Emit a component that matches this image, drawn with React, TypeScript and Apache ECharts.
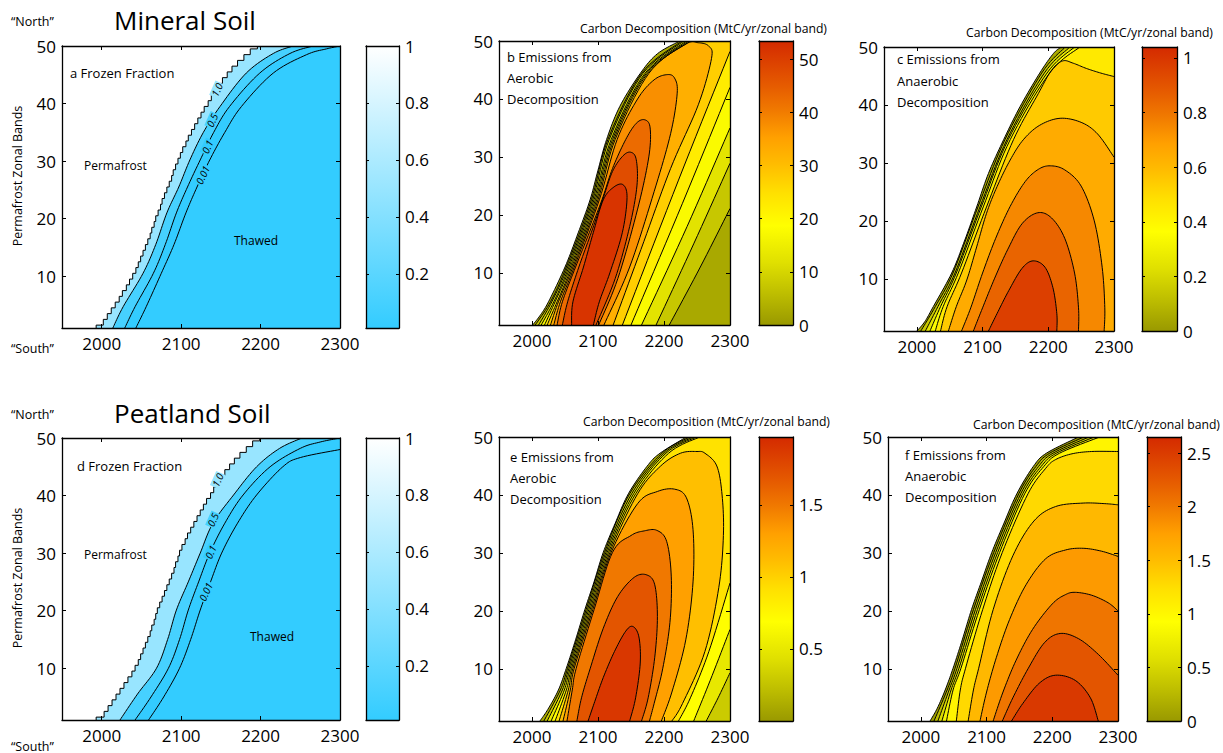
import React, { useEffect, useRef } from "react";
import * as echarts from "echarts";

type Pt = [number, number];
const FONT = '"Open Sans", "Noto Sans", sans-serif';

// ---------- axes ----------
const yearTicks = [2000, 2100, 2200, 2300];
const bandTicks = [10, 20, 30, 40, 50];
const YEAR_MIN = 1950, YEAR_MAX = 2300, BAND_MIN = 1, BAND_MAX = 50;

// ---------- colour maps ----------
const frozenStops: [number, string][] = [[0, "#33ccff"], [1, "#ffffff"]];
const carbonStops: [number, string][] = [
  [0, "#999900"], [0.105, "#bcbc00"], [0.22, "#e0e000"], [0.35, "#ffff00"], [0.465, "#ffe000"],
  [0.57, "#ffbb00"], [0.66, "#ffa000"], [0.76, "#f07800"], [0.84, "#e65c00"], [1, "#d42a00"],
];

// ---------- colour bar ranges & ticks ----------
const aBar = [0.01, 1], dBar = [0.01, 1];
const bBar = [0, 53.4], cBar = [0, 1.04], eBar = [0, 1.97], fBar = [0, 2.65];
const frozenBarTicks = [0.2, 0.4, 0.6, 0.8, 1];
const bBarTicks = [0, 10, 20, 30, 40, 50];
const cBarTicks = [0, 0.2, 0.4, 0.6, 0.8, 1];
const eBarTicks = [0.5, 1, 1.5];
const fBarTicks = [0, 0.5, 1, 1.5, 2, 2.5];

// ---------- panel a : mineral frozen fraction ----------
const aFrozenYears = [1993, 2002, 2007, 2012, 2017, 2022, 2026, 2031, 2035, 2039, 2043, 2046, 2049, 2052, 2055, 2058, 2061, 2063, 2066, 2068,
  2071, 2074, 2076, 2079, 2082, 2085, 2088, 2090, 2093, 2096, 2099, 2102, 2106, 2109, 2113, 2117, 2121, 2125, 2129, 2134,
  2138, 2143, 2147, 2152, 2158, 2164, 2171, 2179, 2187, 2196];
const a05: Pt[] = [[2014, 1], [2027, 4.7], [2052, 10.5], [2068, 15.5], [2082, 21], [2097, 25.5], [2111, 30.2], [2128, 35], [2149, 39.5], [2182, 45.3], [2216, 48.7], [2241, 50]];
const a01: Pt[] = [[2029, 1], [2042, 4.7], [2065, 10.5], [2080, 15.5], [2094, 21], [2108, 25.5], [2124, 30.2], [2141, 35], [2161, 39.5], [2199, 45.3], [2237, 48.7], [2266, 50]];
const a001: Pt[] = [[2043, 1], [2056, 4.7], [2075, 10.5], [2091, 15.5], [2106, 21], [2120, 25.5], [2136, 30.2], [2155, 35], [2176, 39.5], [2216, 45.3], [2258, 48.5], [2283, 49.5], [2300, 50]];
const aLabels: [number, number, string][] = [[2145, 42.4, "1.0"], [2139, 37.1, "0.5"], [2133, 32.5, "0.1"], [2127, 27.6, "0.01"]];

// ---------- panel d : peatland frozen fraction ----------
const dFrozenYears = [1993, 2003, 2008, 2013, 2018, 2023, 2028, 2033, 2038, 2042, 2046, 2049, 2052, 2055, 2058, 2061, 2063, 2066, 2068, 2070,
  2073, 2076, 2079, 2082, 2085, 2088, 2091, 2093, 2096, 2098, 2101, 2105, 2108, 2112, 2116, 2120, 2124, 2128, 2132, 2137,
  2141, 2146, 2150, 2155, 2161, 2167, 2174, 2182, 2190, 2199];
const d05: Pt[] = [[2023, 1], [2045, 5.5], [2069, 10], [2083, 15], [2094, 20.1], [2109, 25], [2124, 30], [2140, 35.2], [2166, 40.1], [2195, 45], [2224, 48.2], [2252, 50]];
const d01: Pt[] = [[2042, 1], [2062, 5], [2084, 10], [2098, 15], [2109, 20.1], [2122, 25], [2136, 30], [2155, 35.2], [2178, 40.1], [2212, 45], [2250, 48.2], [2275, 49.3], [2300, 50]];
const d001: Pt[] = [[2059, 1], [2078, 5], [2098, 10], [2112, 15], [2124, 20.1], [2137, 25], [2151, 30], [2171, 35.2], [2195, 40.1], [2228, 45], [2250, 46.6], [2300, 48]];
const dLabels: [number, number, string][] = [[2146, 42.7, "1.0"], [2140, 35.8, "0.5"], [2137, 30.2, "0.1"], [2131, 23.3, "0.01"]];

// ---------- panel b : mineral aerobic ----------
const bDenseBands = [1, 5, 11, 22.6, 33, 44.4, 50];
const bFront: Pt[] = [[2001, 1], [2012, 2.6], [2025, 5], [2050, 11], [2070, 16.9], [2088, 22.6], [2100, 27.7], [2113, 33], [2133, 38.7], [2164, 44.4], [2190, 47.8], [2224, 50]];
const b05 = [2005, 2028, 2052, 2090, 2115, 2166, 2227];
const b10 = [2010, 2030, 2054, 2092, 2117, 2168, 2230];
const b15 = [2014, 2033, 2056, 2094, 2120, 2171, 2234];
const b20 = [2019, 2035, 2058, 2096, 2122, 2173, 2237];
const b25 = [2023, 2038, 2060, 2098, 2124, 2175, 2240];
const bR05: Pt[] = [[2300, 21.1], [2255, 11], [2208, 1]];
const bR10: Pt[] = [[2300, 28.9], [2245, 15], [2188, 1]];
const bR15: Pt[] = [[2300, 35], [2235, 18], [2166, 1]];
const bR20: Pt[] = [[2300, 42], [2228, 22], [2150, 1]];
const bR25: Pt[] = [[2300, 48.2], [2222, 26], [2137, 1]];
const b30: Pt[] = [[2028, 1], [2040, 5], [2062, 11], [2100, 22.6], [2126, 33], [2177, 44.4], [2232, 49.4], [2252, 49.7], [2268, 49.1], [2272, 47], [2252, 39], [2210, 28], [2165, 14], [2123, 1]];
const b35: Pt[] = [[2033, 1], [2043, 5], [2064, 11], [2102, 22.6], [2129, 33], [2160, 40], [2185, 43.3], [2205, 44.2], [2216, 43.6], [2220, 41], [2210, 34], [2185, 24], [2148, 11], [2109, 1]];
const b40: Pt[] = [[2038, 1], [2046, 5], [2066, 11], [2087, 17], [2106, 22.6], [2122, 28], [2142, 33], [2158, 35.8], [2171, 36.4], [2179, 35], [2177, 30], [2160, 21], [2130, 9], [2101, 1]];
const b45: Pt[] = [[2046, 1], [2054, 5], [2071, 11], [2090, 17], [2107, 22.6], [2122, 27.5], [2138, 30.2], [2150, 30.8], [2158, 29.5], [2159, 25], [2148, 18], [2126, 9], [2097, 1]];
const b50: Pt[] = [[2060, 1], [2062, 5], [2078, 11], [2093, 17], [2108, 22.6], [2124, 24.8], [2138, 25.2], [2144, 23], [2137, 17], [2118, 10], [2102, 5], [2093, 1]];

// ---------- panel c : mineral anaerobic ----------
const cDenseBands = [1, 5.2, 11, 22.4, 34, 45.5, 50];
const cFront: Pt[] = [[2000, 1], [2012, 2.6], [2025, 5.2], [2053, 11], [2073, 16.7], [2091, 22.4], [2109, 28.2], [2132, 34], [2157, 39.7], [2187, 45.5], [2208, 48.9], [2220, 50]];
const c01 = [2006, 2028, 2055, 2093, 2134, 2190, 2226];
const c02 = [2013, 2032, 2058, 2096, 2137, 2194, 2233];
const c03 = [2020, 2036, 2060, 2098, 2139, 2198, 2240];
const c04 = [2028, 2040, 2063, 2101, 2142, 2202, 2248];
const c05: Pt[] = [[2036, 1], [2046, 5.2], [2068, 11], [2106, 22.4], [2147, 34], [2185, 42], [2205, 46], [2222, 47.6], [2238, 47.2], [2258, 46.3], [2280, 45.5], [2300, 44.9]];
const c06: Pt[] = [[2048, 1], [2060, 5.2], [2076, 9.8], [2091, 15.5], [2106, 21.3], [2122, 25.9], [2142, 30.5], [2162, 34], [2187, 36.5], [2218, 37.7], [2250, 37], [2275, 35], [2300, 31]];
const c07: Pt[] = [[2068, 1], [2082, 5], [2100, 11], [2120, 17], [2142, 22.5], [2165, 26.8], [2185, 28.9], [2203, 29.5], [2225, 28.8], [2250, 26], [2270, 20], [2282, 12], [2286, 5], [2285, 1]];
const c08: Pt[] = [[2086, 1], [2100, 5], [2118, 10], [2138, 15], [2160, 19.5], [2184, 21.4], [2205, 20.5], [2225, 17], [2240, 11], [2246, 5], [2246, 1]];
const c09: Pt[] = [[2109, 1], [2122, 4], [2140, 8], [2160, 11.8], [2177, 13.1], [2195, 12], [2207, 8.5], [2213, 4], [2213, 1]];

// ---------- panel e : peatland aerobic ----------
const eDenseBands = [1, 6.35, 10.1, 20.2, 30.1, 40.2, 47.2, 50];
const eFront: Pt[] = [[2012, 1], [2024, 3], [2040, 6.35], [2052, 10.1], [2066, 15], [2080, 20.2], [2094, 25], [2108, 30.1], [2126, 35.1], [2146, 40.2], [2174, 44.9], [2194, 47.2], [2234, 50]];
const e02 = [2018, 2043, 2054, 2082, 2110, 2148, 2197, 2239];
const e04 = [2023, 2046, 2056, 2084, 2112, 2151, 2200, 2244];
const e06 = [2029, 2049, 2058, 2086, 2114, 2154, 2203, 2249];
const e08 = [2035, 2052, 2060, 2088, 2116, 2157, 2207, 2254];
const eR04: Pt[] = [[2300, 9.3], [2282, 5], [2264, 1]];
const eR06: Pt[] = [[2300, 16.8], [2270, 8], [2245, 1]];
const eR08: Pt[] = [[2300, 24.8], [2268, 13], [2240, 5], [2222, 1]];
const e10: Pt[] = [[2041, 1], [2055, 6.35], [2062, 10.1], [2090, 20.2], [2118, 30.1], [2160, 40.2], [2195, 45], [2225, 47.2], [2250, 47.5], [2262, 47.2], [2280, 45], [2288, 40], [2290, 33], [2283, 24], [2262, 13], [2228, 4], [2212, 1]];
const e12: Pt[] = [[2047, 1], [2058, 6.35], [2064, 10.1], [2092, 20.2], [2120, 30.1], [2160, 38.5], [2190, 40.6], [2216, 41], [2234, 39.5], [2244, 34], [2244, 25], [2233, 15], [2212, 6], [2196, 1]];
const e14: Pt[] = [[2053, 1], [2061, 6.35], [2067, 10.1], [2094, 20.2], [2122, 30.1], [2150, 33], [2170, 33.8], [2189, 33.9], [2204, 32], [2211, 26], [2209, 18], [2198, 10], [2185, 4], [2178, 1]];
const e16: Pt[] = [[2068, 1], [2075, 5], [2088, 10], [2108, 17], [2130, 22.5], [2155, 25.8], [2174, 26.2], [2186, 24.5], [2190, 19], [2186, 12], [2176, 5], [2166, 1]];
const e18: Pt[] = [[2085, 1], [2094, 4], [2108, 8.5], [2125, 13], [2142, 16.5], [2153, 17.3], [2162, 15.5], [2164, 11], [2157, 5], [2148, 1]];

// ---------- panel f : peatland anaerobic ----------
const fDenseBands = [1, 6.35, 10.1, 20.2, 30.1, 40.2, 44.9, 47.2, 50];
const fFront: Pt[] = [[2014, 1], [2025, 3.2], [2037, 6.35], [2049, 10.1], [2063, 15], [2077, 20.2], [2092, 25], [2108, 30.1], [2126, 35], [2146, 40.2], [2171, 44.9], [2191, 47.2], [2240, 50]];
const f025 = [2020, 2040, 2052, 2080, 2111, 2149, 2175, 2196, 2248];
const f050 = [2026, 2043, 2055, 2083, 2114, 2152, 2179, 2201, 2256];
const f075 = [2032, 2046, 2058, 2086, 2117, 2155, 2183, 2206, 2264];
const f100 = [2039, 2049, 2061, 2089, 2120, 2158, 2187, 2211, 2272];
const f125: Pt[] = [[2054, 1], [2060, 6.35], [2068, 10.1], [2094, 20.2], [2124, 30.1], [2163, 40.2], [2190, 44.6], [2205, 46.1], [2230, 47.1], [2260, 47.5], [2300, 47.5]];
const f150: Pt[] = [[2072, 1], [2080, 6.35], [2088, 10.1], [2110, 20.2], [2140, 29.5], [2172, 35.5], [2205, 38], [2247, 38.6], [2280, 38.5], [2300, 38.3]];
const f175: Pt[] = [[2090, 1], [2100, 6], [2115, 12], [2135, 18.5], [2160, 24.5], [2190, 29], [2220, 30.5], [2247, 30.8], [2275, 30.3], [2300, 29.4]];
const f200: Pt[] = [[2110, 1], [2125, 6], [2145, 11.5], [2170, 16.8], [2200, 21.2], [2220, 22.8], [2235, 23.2], [2260, 22.7], [2285, 21.4], [2300, 20]];
const f225: Pt[] = [[2124, 1], [2140, 5], [2163, 10], [2188, 14.5], [2212, 16.1], [2240, 15.2], [2270, 12.5], [2300, 8.9]];
const f250: Pt[] = [[2138, 1], [2155, 4], [2180, 7.5], [2205, 8.9], [2235, 8], [2258, 5], [2270, 1]];

// ---------- helpers ----------
type Seg = { p: Pt[]; kind: "line" | "corner" | "stair" };
type Level = { v: number; segs: Seg[] };
const ln = (p: Pt[]): Seg => ({ p, kind: "line" });
const cr = (...p: Pt[]): Seg => ({ p, kind: "corner" });
const zipB = (years: number[], bands: number[]): Pt[] => years.map((y, i) => [y, bands[i]] as Pt);
const stair = (years: number[]): Seg => {
  const p: Pt[] = [[years[0], 1]];
  for (let k = 0; k < years.length - 1; k++) {
    p.push([years[k], k + 1.5]);
    p.push([years[k + 1], k + 1.5]);
  }
  p.push([years[years.length - 1], 50]);
  return { p, kind: "stair" };
};
const TR: Pt = [YEAR_MAX, BAND_MAX], BR: Pt = [YEAR_MAX, BAND_MIN], TL: Pt = [YEAR_MIN, BAND_MAX], BL: Pt = [YEAR_MIN, BAND_MIN];

function hex2rgb(h: string) { return [parseInt(h.slice(1, 3), 16), parseInt(h.slice(3, 5), 16), parseInt(h.slice(5, 7), 16)]; }
function cmap(stops: [number, string][], t: number) {
  t = Math.max(0, Math.min(1, t));
  for (let i = 0; i < stops.length - 1; i++) {
    const [t0, c0] = stops[i], [t1, c1] = stops[i + 1];
    if (t <= t1) {
      const f = (t - t0) / (t1 - t0 || 1);
      const a = hex2rgb(c0), b = hex2rgb(c1);
      return `rgb(${a.map((v, j) => Math.round(v + (b[j] - v) * f)).join(",")})`;
    }
  }
  return stops[stops.length - 1][1];
}
function smooth(p: number[][]) {
  if (p.length < 3) return p;
  const out = [p[0]];
  for (let i = 0; i < p.length - 1; i++) {
    const p0 = p[i - 1] || p[i], p1 = p[i], p2 = p[i + 1], p3 = p[i + 2] || p[i + 1];
    for (let k = 1; k <= 10; k++) {
      const t = k / 10, t2 = t * t, t3 = t2 * t;
      const f = (j: number) => 0.5 * (2 * p1[j] + (-p0[j] + p2[j]) * t + (2 * p0[j] - 5 * p1[j] + 4 * p2[j] - p3[j]) * t2 + (-p0[j] + 3 * p1[j] - 3 * p2[j] + p3[j]) * t3);
      out.push([f(0), f(1)]);
    }
  }
  return out;
}

// ---------- level structures (regions >= level) ----------
const frozenLevels = (yearsStair: number[], l05: Pt[], l01: Pt[], l001: Pt[], extra001: Pt[]): Level[] => [
  { v: 0.01, segs: [cr(BL), ln(l001), cr(...extra001, TL)] },
  { v: 0.1, segs: [cr(BL), ln(l01), cr(TL)] },
  { v: 0.5, segs: [cr(BL), ln(l05), cr(TL)] },
  { v: 1.0, segs: [cr(BL), stair(yearsStair), cr(TL)] },
];
const aLevels = frozenLevels(aFrozenYears, a05, a01, a001, []);
const dLevels = frozenLevels(dFrozenYears, d05, d01, d001, [TR]);

const bLevels: Level[] = [
  { v: 0, segs: [ln(bFront), cr(TR, BR)] },
  { v: 5, segs: [ln(zipB(b05, bDenseBands)), cr(TR), ln(bR05)] },
  { v: 10, segs: [ln(zipB(b10, bDenseBands)), cr(TR), ln(bR10)] },
  { v: 15, segs: [ln(zipB(b15, bDenseBands)), cr(TR), ln(bR15)] },
  { v: 20, segs: [ln(zipB(b20, bDenseBands)), cr(TR), ln(bR20)] },
  { v: 25, segs: [ln(zipB(b25, bDenseBands)), cr(TR), ln(bR25)] },
  { v: 30, segs: [ln(b30)] },
  { v: 35, segs: [ln(b35)] },
  { v: 40, segs: [ln(b40)] },
  { v: 45, segs: [ln(b45)] },
  { v: 50, segs: [ln(b50)] },
];
const cLevels: Level[] = [
  { v: 0, segs: [ln(cFront), cr(TR, BR)] },
  { v: 0.1, segs: [ln(zipB(c01, cDenseBands)), cr(TR, BR)] },
  { v: 0.2, segs: [ln(zipB(c02, cDenseBands)), cr(TR, BR)] },
  { v: 0.3, segs: [ln(zipB(c03, cDenseBands)), cr(TR, BR)] },
  { v: 0.4, segs: [ln(zipB(c04, cDenseBands)), cr(TR, BR)] },
  { v: 0.5, segs: [ln(c05), cr(BR)] },
  { v: 0.6, segs: [ln(c06), cr(BR)] },
  { v: 0.7, segs: [ln(c07)] },
  { v: 0.8, segs: [ln(c08)] },
  { v: 0.9, segs: [ln(c09)] },
];
const eLevels: Level[] = [
  { v: 0, segs: [ln(eFront), cr(TR, BR)] },
  { v: 0.2, segs: [ln(zipB(e02, eDenseBands)), cr(TR, BR)] },
  { v: 0.4, segs: [ln(zipB(e04, eDenseBands)), cr(TR), ln(eR04)] },
  { v: 0.6, segs: [ln(zipB(e06, eDenseBands)), cr(TR), ln(eR06)] },
  { v: 0.8, segs: [ln(zipB(e08, eDenseBands)), cr(TR), ln(eR08)] },
  { v: 1.0, segs: [ln(e10)] },
  { v: 1.2, segs: [ln(e12)] },
  { v: 1.4, segs: [ln(e14)] },
  { v: 1.6, segs: [ln(e16)] },
  { v: 1.8, segs: [ln(e18)] },
];
const fLevels: Level[] = [
  { v: 0, segs: [ln(fFront), cr(TR, BR)] },
  { v: 0.25, segs: [ln(zipB(f025, fDenseBands)), cr(TR, BR)] },
  { v: 0.5, segs: [ln(zipB(f050, fDenseBands)), cr(TR, BR)] },
  { v: 0.75, segs: [ln(zipB(f075, fDenseBands)), cr(TR, BR)] },
  { v: 1.0, segs: [ln(zipB(f100, fDenseBands)), cr(TR, BR)] },
  { v: 1.25, segs: [ln(f125), cr(BR)] },
  { v: 1.5, segs: [ln(f150), cr(BR)] },
  { v: 1.75, segs: [ln(f175), cr(BR)] },
  { v: 2.0, segs: [ln(f200), cr(BR)] },
  { v: 2.25, segs: [ln(f225), cr(BR)] },
  { v: 2.5, segs: [ln(f250)] },
];

// fill colour of a band [v_k, v_k+1]: sampled at a fraction of the band (0 = lower bound, 0.5 = middle)
type Panel = { g: number[]; cb: number[]; range: number[]; ticks: number[]; stops: [number, string][]; levels: Level[]; pick: number; base?: boolean; labels?: [number, number, string][] };
const panels: Panel[] = [
  { g: [62, 46, 278, 282], cb: [366, 46, 33, 282], range: aBar, ticks: frozenBarTicks, stops: frozenStops, levels: aLevels, pick: 0, base: true, labels: aLabels },
  { g: [499, 41, 231, 284], cb: [759, 41, 34, 284], range: bBar, ticks: bBarTicks, stops: carbonStops, levels: bLevels, pick: 0.5 },
  { g: [884, 47, 230, 284], cb: [1142, 47, 35, 284], range: cBar, ticks: cBarTicks, stops: carbonStops, levels: cLevels, pick: 0.5 },
  { g: [62, 438, 278, 282], cb: [366, 438, 33, 282], range: dBar, ticks: frozenBarTicks, stops: frozenStops, levels: dLevels, pick: 0, base: true, labels: dLabels },
  { g: [499, 437, 231, 284], cb: [759, 437, 34, 284], range: eBar, ticks: eBarTicks, stops: carbonStops, levels: eLevels, pick: 0.5 },
  { g: [888, 437, 230, 284], cb: [1147, 437, 34, 284], range: fBar, ticks: fBarTicks, stops: carbonStops, levels: fLevels, pick: 0.15 },
];

const axisLine = { show: true, onZero: false, lineStyle: { color: "#000", width: 1.3 } };
const tickStyle = { color: "#000", width: 1 };
const labelStyle = { color: "#000", fontSize: 17, fontFamily: FONT, formatter: (v: number) => String(v) };

function buildOption() {
  const grid: any[] = [], xAxis: any[] = [], yAxis: any[] = [], series: any[] = [];
  panels.forEach((P, i) => {
    const gi = 2 * i, bi = 2 * i + 1;
    grid.push({ left: P.g[0], top: P.g[1], width: P.g[2], height: P.g[3], containLabel: false, outerBoundsMode: "none" });
    grid.push({ left: P.cb[0], top: P.cb[1], width: P.cb[2], height: P.cb[3], containLabel: false, outerBoundsMode: "none" });
    const mx = (pos: string, lab: boolean) => ({
      type: "value", gridIndex: gi, position: pos, min: YEAR_MIN, max: YEAR_MAX, z: 10, axisLine, splitLine: { show: false },
      axisTick: { show: true, inside: true, length: 4, customValues: yearTicks, lineStyle: tickStyle },
      axisLabel: lab ? { show: true, customValues: yearTicks, margin: 7, ...labelStyle } : { show: false },
    });
    const my = (pos: string, lab: boolean) => ({
      type: "value", gridIndex: gi, position: pos, min: BAND_MIN, max: BAND_MAX, z: 10, axisLine, splitLine: { show: false },
      axisTick: { show: true, inside: true, length: 4, customValues: bandTicks, lineStyle: tickStyle },
      axisLabel: lab ? { show: true, customValues: bandTicks, margin: 6, ...labelStyle } : { show: false },
    });
    const bx = (pos: string) => ({ type: "value", gridIndex: bi, position: pos, min: 0, max: 1, z: 10, axisLine, splitLine: { show: false }, axisTick: { show: false }, axisLabel: { show: false } });
    const by = (pos: string, lab: boolean) => ({
      type: "value", gridIndex: bi, position: pos, min: P.range[0], max: P.range[1], z: 10, axisLine, splitLine: { show: false },
      axisTick: { show: true, inside: true, length: 3, customValues: P.ticks, lineStyle: tickStyle },
      axisLabel: lab ? { show: true, customValues: P.ticks, margin: 6, ...labelStyle } : { show: false },
    });
    xAxis.push(mx("bottom", true), mx("top", false), bx("bottom"), bx("top"));
    yAxis.push(my("left", true), my("right", false), by("left", false), by("right", true));

    series.push({
      type: "custom", xAxisIndex: 4 * i, yAxisIndex: 4 * i, z: 2, clip: true, silent: true,
      data: [[2000, 10]], encode: { x: 0, y: 1 },
      renderItem: (_params: any, api: any) => {
        const fills: any[] = [], lines: number[][][] = [];
        if (P.base) {
          const a = api.coord(BL), b = api.coord(TR);
          fills.push({ type: "rect", shape: { x: a[0], y: b[1], width: b[0] - a[0], height: a[1] - b[1] }, style: { fill: cmap(P.stops, 0) } });
        }
        const colors: string[] = [];
        P.levels.forEach((lv, k) => {
          const next = k + 1 < P.levels.length ? P.levels[k + 1].v : P.range[1];
          const val = lv.v + (next - lv.v) * P.pick;
          const color = cmap(P.stops, (val - P.range[0]) / (P.range[1] - P.range[0]));
          colors.push(color);
          const poly: number[][] = [];
          lv.segs.forEach((s) => {
            let px = s.p.map((q) => api.coord(q));
            if (s.kind === "line") px = smooth(px);
            poly.push(...px);
            if (s.kind !== "corner") lines.push(px);
          });
          fills.push({ type: "polygon", shape: { points: poly }, style: { fill: color } });
        });
        const strokes = lines.map((pts) => ({ type: "polyline", shape: { points: pts }, style: { stroke: "#000", lineWidth: 1, fill: null } }));
        const labs = (P.labels || []).map(([yr, bd, txt], k) => {
          const c = api.coord([yr, bd]);
          const bg = colors[Math.max(0, colors.length - 2 - k)] || colors[0];
          return { type: "text", x: c[0], y: c[1], rotation: 1.15, style: { text: txt, fontSize: 10, fontFamily: FONT, fontStyle: "italic", fill: "#000", align: "center", verticalAlign: "middle", backgroundColor: bg, padding: [0, 1] } };
        });
        return { type: "group", children: [...fills, ...strokes, ...labs] };
      },
    });
    series.push({
      type: "custom", xAxisIndex: 4 * i + 2, yAxisIndex: 4 * i + 3, z: 2, silent: true,
      data: [[0, P.range[0]]], encode: { x: 0, y: 1 },
      renderItem: (_params: any, api: any) => {
        const p0 = api.coord([0, P.range[0]]), p1 = api.coord([1, P.range[1]]);
        return {
          type: "rect", shape: { x: p0[0], y: p1[1], width: p1[0] - p0[0], height: p0[1] - p1[1] },
          style: { fill: new echarts.graphic.LinearGradient(0, 1, 0, 0, P.stops.map(([o, c]) => ({ offset: o, color: c }))) },
        };
      },
    });
  });

  const T = (text: string, x: number, y: number, size: number, extra: any = {}) => ({
    type: "text", x, y, z: 20, ...extra,
    style: { text, fontSize: size, fontFamily: FONT, fill: "#000", align: "left", verticalAlign: "middle", ...(extra.style || {}) },
  });
  const rot = { rotation: Math.PI / 2, style: { align: "center" } };
  const CD = "Carbon Decomposition (MtC/yr/zonal band)";
  const graphic = [
    T("Mineral Soil", 114, 20, 26), T("Peatland Soil", 114, 413, 26),
    T("\u201cNorth\u201d", 11, 21, 12.5), T("\u201cSouth\u201d", 11, 348, 12.5),
    T("\u201cNorth\u201d", 11, 414, 12.5), T("\u201cSouth\u201d", 11, 746, 12.5),
    T("Permafrost Zonal Bands", 17, 176, 12.5, rot), T("Permafrost Zonal Bands", 17, 578, 12.5, rot),
    T("a Frozen Fraction", 70, 73, 13), T("Permafrost", 84, 165, 12), T("Thawed", 234, 240, 12),
    T("d Frozen Fraction", 77, 466, 13), T("Permafrost", 84, 554, 12), T("Thawed", 250, 636, 12),
    T("b Emissions from", 507, 57, 13), T("Aerobic", 507, 78, 13), T("Decomposition", 507, 99, 13),
    T("c Emissions from", 897, 59, 13), T("Anaerobic", 897, 81, 13), T("Decomposition", 897, 102, 13),
    T("e Emissions from", 510, 457, 13), T("Aerobic", 510, 478, 13), T("Decomposition", 510, 499, 13),
    T("f Emissions from", 905, 455, 13), T("Anaerobic", 905, 476, 13), T("Decomposition", 905, 497, 13),
    T(CD, 580, 28, 12.2), T(CD, 966, 32, 12.2), T(CD, 583, 421, 12.2), T(CD, 973, 424, 12.2),
  ];
  return { animation: false, backgroundColor: "#fff", grid, xAxis, yAxis, series, graphic };
}

export default function App() {
  const ref = useRef<HTMLDivElement>(null);
  useEffect(() => {
    if (!ref.current) return;
    const chart = echarts.init(ref.current, undefined, { renderer: "svg" });
    chart.setOption(buildOption() as any);
    return () => chart.dispose();
  }, []);
  return <div ref={ref} style={{ position: "fixed", left: 0, top: 0, width: 1223, height: 753 }} />;
}
